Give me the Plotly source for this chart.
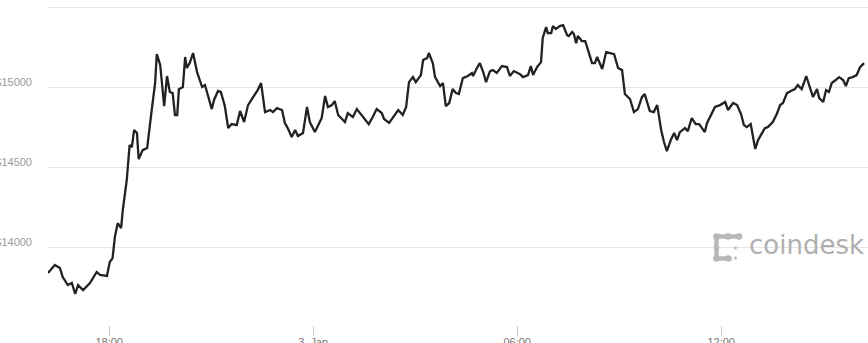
import plotly.graph_objects as go

# ---- data ----
day1_times = ["16:12","16:24","16:33","16:38","16:47","16:54","17:00","17:05","17:14","17:26",
              "17:38","17:44","17:56","18:01","18:06","18:10","18:15","18:21","18:24","18:31",
              "18:36","18:40","18:44","18:49","18:52","18:59","19:07","19:12","19:15","19:21",
              "19:24","19:30","19:37","19:42","19:47","19:52","19:56","20:00","20:03","20:10",
              "20:14","20:17","20:22","20:28","20:35","20:44","20:49","20:54","21:01","21:05",
              "21:12","21:17","21:24","21:30","21:36","21:45","21:51","21:58","22:05","22:14",
              "22:22","22:28","22:35","22:44","22:49","22:56","23:05","23:10","23:15","23:22",
              "23:28","23:33","23:42","23:49","23:54"]
day1_prices = [13838,13888,13869,13812,13762,13775,13706,13762,13731,13775,
               13844,13825,13819,13906,13931,14063,14150,14119,14232,14420,
               14639,14626,14733,14714,14551,14607,14620,14751,14858,15027,
               15208,15140,14883,15071,14971,14964,14827,14827,14989,15002,
               15190,15121,15152,15215,15096,15002,15014,14952,14864,14921,
               14977,14971,14883,14745,14770,14764,14852,14783,14889,14939,
               14983,15027,14845,14858,14845,14870,14858,14777,14745,14689,
               14733,14695,14714,14877,14783]

day2_times = ["00:03","00:15","00:21","00:26","00:33","00:38","00:44","00:56","01:01","01:10",
              "01:17","01:28","01:38","01:45","01:52","02:01","02:05","02:14","02:24","02:30",
              "02:38","02:44","02:49","02:56","03:01","03:10","03:14","03:21","03:24","03:31",
              "03:35","03:38","03:44","03:49","03:54","04:00","04:06","04:12","04:17","04:24",
              "04:33","04:40","04:42","04:49","04:54","05:00","05:05","05:12","05:17","05:24",
              "05:33","05:42","05:47","05:54","06:05","06:10","06:19","06:24","06:28","06:35",
              "06:42","06:45","06:51","06:54","07:00","07:03","07:08","07:15","07:21","07:28",
              "07:31","07:37","07:40","07:44","07:47","07:54","08:00","08:05","08:12","08:17",
              "08:21","08:30","08:37","08:44","08:51","08:58","09:05","09:10","09:19","09:26",
              "09:33","09:40","09:45","09:54","10:01","10:07","10:14","10:19","10:24","10:31",
              "10:37","10:42","10:47","10:56","11:01","11:08","11:15","11:21","11:31","11:35",
              "11:44","11:49","11:58","12:07","12:12","12:21","12:28","12:35","12:40","12:45",
              "12:52","12:56","13:00","13:05","13:12","13:17","13:22","13:31","13:38","13:44",
              "13:49","13:56","14:03","14:10","14:15","14:22","14:30","14:35","14:42","14:49",
              "14:53","15:00","15:05","15:10","15:15","15:22","15:28","15:35","15:40","15:45",
              "15:52","15:59","16:05","16:12"]
day2_prices = [14720,14808,14946,14877,14889,14914,14827,14783,14839,14814,
               14864,14814,14770,14814,14864,14839,14802,14777,14827,14858,
               14827,14877,15033,15064,15033,15077,15171,15183,15215,15152,
               15064,15046,15008,15027,14883,14902,14989,14964,14958,15058,
               15071,15090,15071,15121,15152,15096,15033,15102,15108,15090,
               15133,15127,15071,15102,15083,15064,15077,15133,15077,15127,
               15158,15309,15377,15340,15340,15384,15365,15384,15390,15327,
               15321,15346,15334,15277,15321,15290,15290,15233,15152,15152,
               15190,15115,15221,15215,15208,15121,15108,14958,14927,14845,
               14864,14939,14958,14852,14845,14889,14733,14658,14601,14670,
               14714,14670,14720,14745,14726,14808,14770,14770,14720,14777,
               14839,14877,14889,14908,14858,14902,14889,14833,14764,14751,
               14770,14683,14614,14670,14714,14745,14751,14783,14833,14889,
               14902,14964,14977,14989,15014,14989,15071,15014,14939,14989,
               14933,14908,14983,14971,15027,15046,15064,15046,15008,15058,
               15064,15077,15127,15152]

times = ["2018-01-02 " + t for t in day1_times] + ["2018-01-03 " + t for t in day2_times]
prices = day1_prices + day2_prices

x_tick_vals = ["2018-01-02 18:00", "2018-01-03 00:00", "2018-01-03 06:00", "2018-01-03 12:00"]
x_tick_text = ["18:00", "3. Jan", "06:00", "12:00"]
y_tick_vals = [14000, 14500, 15000, 15500]
y_tick_text = ["$14000", "$14500", "$15000", ""]

W, H = 868, 343
ML, MR, MT, MB = 48, 0, 0, 18

fig = go.Figure()
fig.add_trace(go.Scatter(x=times, y=prices, mode="lines",
                         line=dict(color="#222222", width=2.3), hoverinfo="skip"))

# ---- watermark logo (decoration, pixel -> paper) ----
pw, ph = W - ML - MR, H - MT - MB
def px(x): return (x - ML) / pw
def py(y): return (H - MB - y) / ph
logo = "#b8b8b8"
shapes = []
for (x0, y0, x1, y1) in [(716, 236.5, 739, 236.5), (716.5, 236, 716.5, 259), (716, 258.5, 729, 258.5)]:
    shapes.append(dict(type="line", xref="paper", yref="paper", x0=px(x0), y0=py(y0), x1=px(x1), y1=py(y1),
                       line=dict(color=logo, width=4.5), layer="above"))
for (cx, cy, r) in [(716.5, 236.5, 3.3), (728, 236.5, 3.3), (739, 236.5, 3.3), (716.5, 247.5, 2.8),
                    (716.5, 258.5, 3.3), (728.5, 258.5, 3.3), (735.5, 248, 1.4), (735.5, 258, 1.4)]:
    shapes.append(dict(type="circle", xref="paper", yref="paper", x0=px(cx - r), y0=py(cy + r), x1=px(cx + r), y1=py(cy - r),
                       fillcolor=logo, line=dict(width=0), layer="above"))

fig.update_layout(
    width=W, height=H,
    margin=dict(l=ML, r=MR, t=MT, b=MB, autoexpand=False),
    paper_bgcolor="white", plot_bgcolor="white",
    showlegend=False,
    shapes=shapes,
    annotations=[dict(text="coindesk", xref="paper", yref="paper", x=px(747), y=py(245),
                      xanchor="left", yanchor="middle", showarrow=False,
                      font=dict(family="DejaVu Sans", size=26, color="#b0b0b0"))],
    xaxis=dict(range=["2018-01-02 16:12", "2018-01-03 16:19"], tickvals=x_tick_vals, ticktext=x_tick_text,
               showgrid=False, zeroline=False, showline=False, automargin=False,
               ticks="outside", ticklen=10, tickcolor="#cccccc", tickwidth=1, ticklabelstandoff=-3,
               tickfont=dict(family="Liberation Sans", size=11, color="#777777")),
    yaxis=dict(range=[13512, 15547], tickvals=y_tick_vals, ticktext=y_tick_text,
               showgrid=True, gridcolor="#e6e6e6", gridwidth=1, zeroline=False, showline=False,
               automargin=False, ticks="", ticklabelstandoff=15, ticklabelshift=-5,
               tickfont=dict(family="Liberation Sans", size=11, color="#999999")),
)

fig.write_html("out.html")
